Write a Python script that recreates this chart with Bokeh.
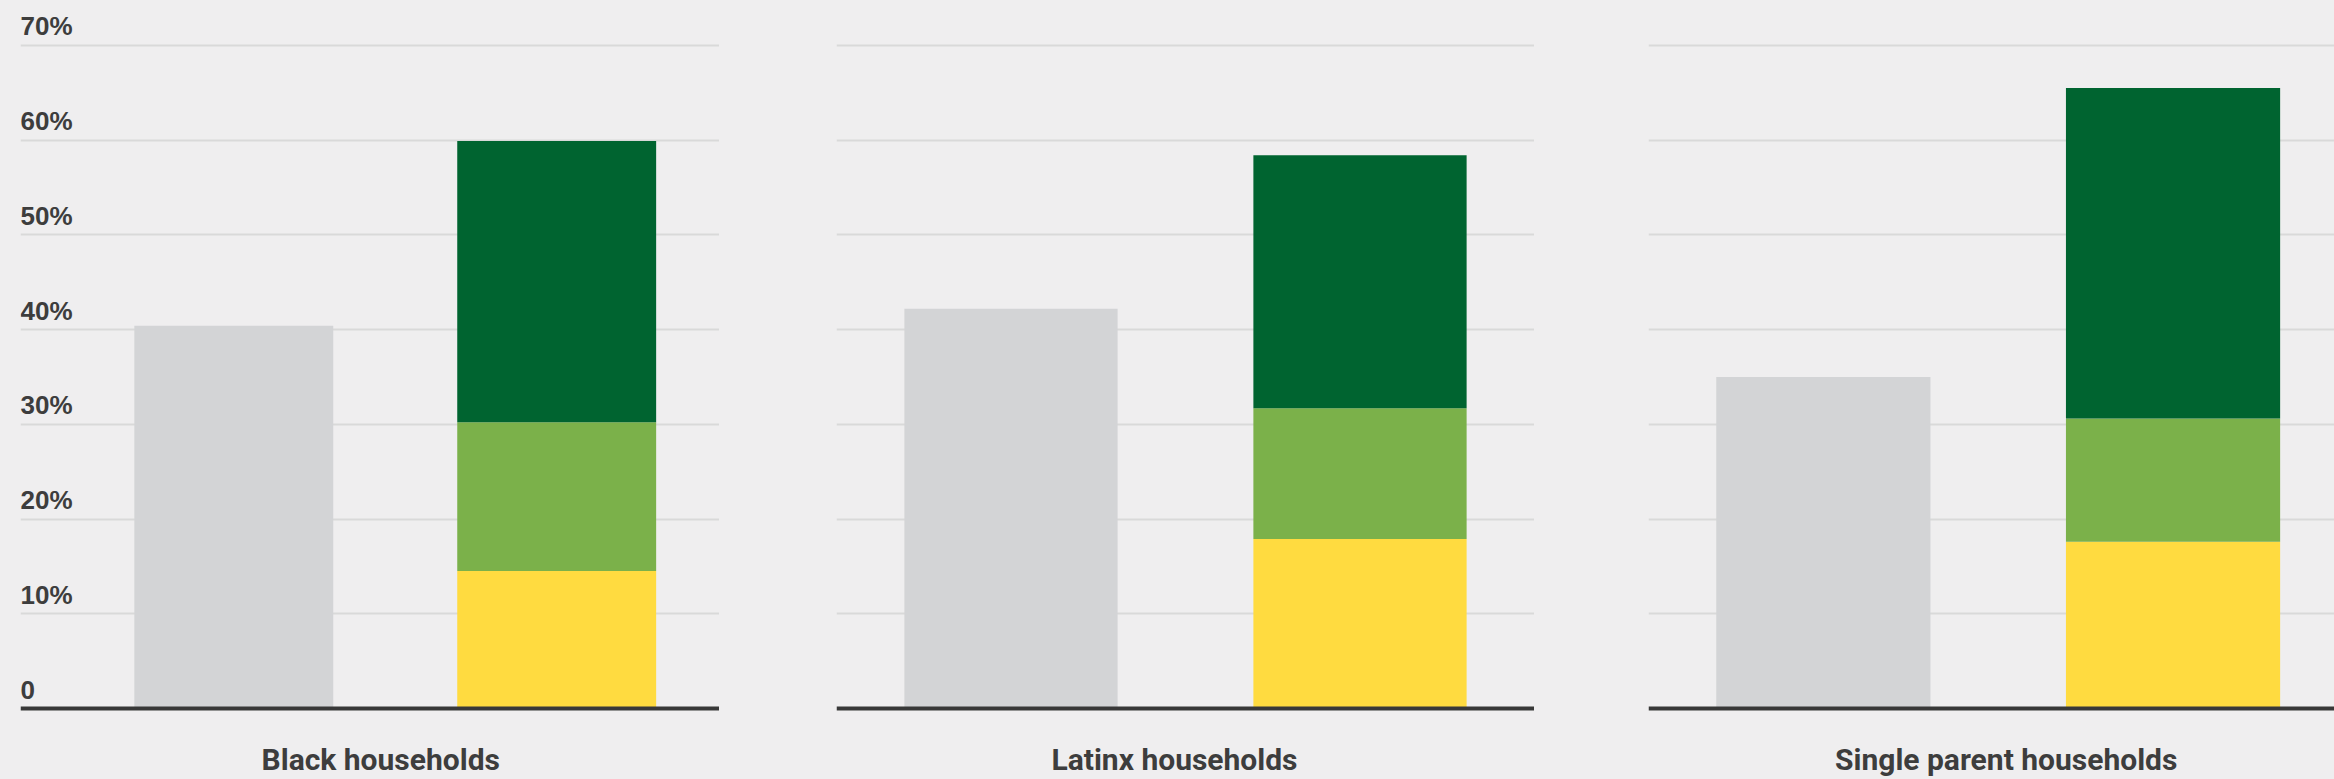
from bokeh.plotting import figure
from bokeh.layouts import row
from bokeh.models import Range1d, Span, Grid, FixedTicker, ColumnDataSource
from bokeh.core.properties import value
from bokeh.embed import file_html
from bokeh.resources import INLINE

# ---------------- data ----------------
groups = ["Black households", "Latinx households", "Single parent households"]
bar_kinds = ["Current", "Proposed"]
current_share = [40.4, 42.2, 35.0]          # grey bars (%)
proposed_low = [14.5, 17.9, 17.6]           # yellow segment (%)
proposed_mid = [15.7, 13.8, 13.0]           # light green segment (%)
proposed_high = [29.7, 26.7, 34.9]          # dark green segment (%)
tick_values = [0, 10, 20, 30, 40, 50, 60, 70]
tick_labels = ["0", "10%", "20%", "30%", "40%", "50%", "60%", "70%"]

# ---------------- style ----------------
BG = "#efeeef"
GREY = "#d3d4d6"
YELLOW = "#ffdb40"
LGREEN = "#7bb14a"
DGREEN = "#006430"
GRID = "#d9d9d9"
AXIS = "#383838"
TEXT = "#3d3d3d"
H = 779
Y_START, Y_END = -7.493, 74.723

# per panel layout: x range, bar width, figure width, left border, label x offset
panels = [
    dict(x0=-0.6606, x1=1.5042, bw=0.616, width=719, left=20, loff=-14.5),
    dict(x0=-0.5, x1=1.5, bw=0.611, width=815, left=117, loff=-11),
    dict(x0=-0.5, x1=1.4617, bw=0.6125, width=800, left=114, loff=8),
]

pos = {k: i for i, k in enumerate(bar_kinds)}
figs = []
for i, g in enumerate(groups):
    cfg = panels[i]
    p = figure(width=cfg["width"], height=H, output_backend="svg", toolbar_location=None,
               x_range=Range1d(cfg["x0"], cfg["x1"]), y_range=Range1d(Y_START, Y_END),
               x_axis_location=None, y_axis_location=None,
               min_border_left=cfg["left"], min_border_right=0,
               min_border_top=0, min_border_bottom=0,
               background_fill_color=BG, border_fill_color=BG, outline_line_color=None)
    p.xgrid.visible = False
    p.ygrid.visible = False
    p.add_layout(Grid(dimension=1, ticker=FixedTicker(ticks=tick_values[1:]),
                      grid_line_color=GRID, grid_line_width=2))

    p.vbar(x=[pos["Current"]], top=[current_share[i]], width=cfg["bw"],
           fill_color=GREY, line_color=None)
    src = ColumnDataSource(dict(x=[pos["Proposed"]], low=[proposed_low[i]],
                                mid=[proposed_mid[i]], high=[proposed_high[i]]))
    p.vbar_stack(["low", "mid", "high"], x="x", width=cfg["bw"], source=src,
                 fill_color=[YELLOW, LGREEN, DGREEN], line_color=None)

    p.add_layout(Span(location=0, dimension="width", line_color=AXIS, line_width=4))

    mid_x = sum(pos.values()) / len(pos)
    p.text(x=[mid_x], y=[0], text=[g], text_font=value("Roboto"),
           text_font_style="bold", text_font_size="30px", text_color=TEXT,
           text_align="center", text_baseline="alphabetic", y_offset=51, x_offset=cfg["loff"])

    if i == 0:
        p.text(x=[cfg["x0"]] * len(tick_values), y=tick_values, text=tick_labels,
               text_font=value("Liberation Sans"), text_font_style="bold",
               text_font_size="26px", text_color=TEXT, text_align="left",
               text_baseline="alphabetic", y_offset=-19)
    figs.append(p)

layout = row(*figs, spacing=0, styles={"background-color": BG})
open("out.html", "w").write(file_html(layout, INLINE))
